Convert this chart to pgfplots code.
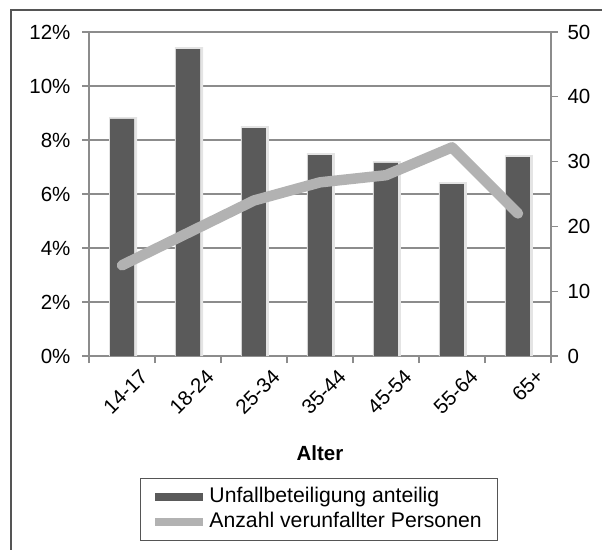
\documentclass[border=0pt]{standalone}
\usepackage{pgfplots}
\pgfplotsset{compat=1.18}
\usepackage{fontspec}
\setmainfont{Liberation Sans}
\definecolor{barcol}{HTML}{5A5A5A}
\definecolor{linecol}{HTML}{B2B2B2}
\definecolor{gridcol}{HTML}{8C8C8C}
\definecolor{framecol}{HTML}{555555}
\definecolor{shadowcol}{HTML}{E4E4E4}
\newcommand{\fs}{\fontsize{20.5bp}{24bp}\selectfont}
\newcommand{\fl}{\fontsize{21.2bp}{25bp}\selectfont}
\begin{document}
\begin{tikzpicture}
\path[use as bounding box] (0,0) rectangle (602bp,-550bp);
\draw[framecol, line width=2bp] (10.5bp,-550bp) -- (10.5bp,-10bp) -- (602bp,-10bp);
\pgfplotsset{
  common/.style={
    at={(89bp,-356bp)}, anchor=south west,
    width=462bp, height=324bp, scale only axis,
    xmin=-0.5, xmax=6.5,
    tick label style={font=\fs, text=black},
    axis line style={gridcol, line width=1.3bp},
    tick align=outside,
    /pgf/number format/assume math mode=true,
  }
}
\begin{axis}[common,
  axis y line*=left, axis x line*=bottom,
  ymin=0, ymax=12,
  ytick={0,2,4,6,8,10,12},
  yticklabels={0\%,2\%,4\%,6\%,8\%,10\%,12\%},
  yticklabel style={xshift=-8bp},
  ymajorgrids, grid style={gridcol, line width=1.3bp},
  major y tick style={gridcol, line width=1.3bp},
  major tick length=7bp,
  xtick={0,1,2,3,4,5,6},
  xticklabels={14-17,18-24,25-34,35-44,45-54,55-64,65+},
  major x tick style={draw=none},
  minor xtick={-0.5,0.5,1.5,2.5,3.5,4.5,5.5,6.5},
  minor x tick style={gridcol, line width=1.3bp},
  minor tick length=7bp,
  xticklabel style={rotate=45, anchor=north east, xshift=12bp, yshift=-12bp},
  xlabel={\textbf{Alter}},
  xlabel style={font=\fs, yshift=-22bp},
]
\addplot[ybar, bar width=28bp, fill=shadowcol, draw=none, bar shift=1bp, forget plot] coordinates {
(0,8.85) (1,11.44) (2,8.51) (3,7.51) (4,7.22) (5,6.44) (6,7.44)};
\addplot[ybar, bar width=24bp, fill=barcol, draw=none] coordinates {
(0,8.78) (1,11.37) (2,8.44) (3,7.44) (4,7.15) (5,6.37) (6,7.37)};
\end{axis}
\begin{axis}[common,
  axis y line*=right, axis x line=none,
  ymin=0, ymax=50,
  ytick={0,10,20,30,40,50},
  yticklabel style={xshift=6bp},
  major tick length=7bp,
  major y tick style={gridcol, line width=1.3bp},
  legend style={at={(0.498,-0.3765)}, anchor=north, draw=framecol, line width=1.5bp,
    font=\fl, inner xsep=15bp, inner ysep=6bp, row sep=0bp, column sep=5bp,
    nodes={text height=16bp, text depth=5bp, inner ysep=2bp, inner xsep=1bp}},
  legend cell align=left,
]
\addlegendimage{legend image code/.code={\path[fill=barcol, draw=none] (0bp,-4bp) rectangle (48bp,4bp);}}
\addlegendentry{Unfallbeteiligung anteilig}
\addlegendimage{legend image code/.code={\path[fill=linecol, draw=none] (0bp,-4bp) rectangle (48bp,4bp);}}
\addlegendentry{Anzahl verunfallter Personen}
\addplot[linecol, line width=10.5bp, line cap=round, line join=round, forget plot]
  coordinates {(0,14) (1,19) (2,24) (3,26.8) (4,27.9) (5,32.2) (6,22)};
\end{axis}
\end{tikzpicture}
\end{document}
